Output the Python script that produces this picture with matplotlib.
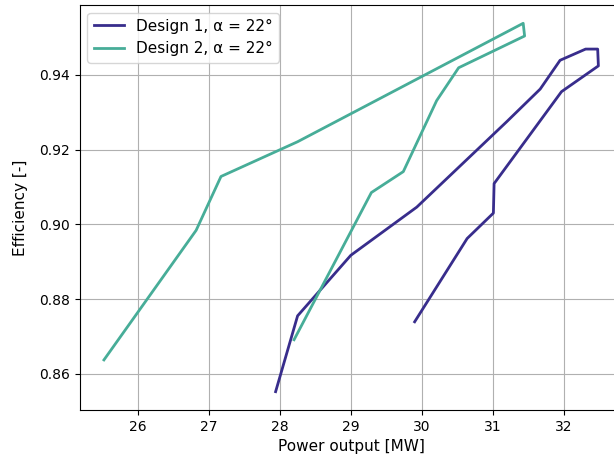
import matplotlib
matplotlib.use("Agg")
import matplotlib.pyplot as plt

power_d1 = [27.94, 28.25, 29.00, 29.93, 31.20, 31.67, 31.95, 32.31, 32.48,
            32.49, 31.97, 31.02, 31.01, 30.64, 29.90]
eff_d1 = [0.8552, 0.8755, 0.8917, 0.9046, 0.9275, 0.9362, 0.9439, 0.9469, 0.9469,
          0.9424, 0.9355, 0.9109, 0.9030, 0.8962, 0.8739]

# Design 2
power_d2 = [25.52, 26.82, 27.17, 28.25, 31.43, 31.45, 30.52, 30.21, 29.74,
            29.29, 28.20]
eff_d2 = [0.8637, 0.8984, 0.9128, 0.9221, 0.9538, 0.9504, 0.9419, 0.9331, 0.9141,
          0.9085, 0.8691]

labels = ["Design 1, α = 22°", "Design 2, α = 22°"]
colors = ["#382d8c", "#47ad98"]

fig = plt.figure(figsize=(6.14, 4.62), dpi=100)
ax = fig.add_axes([0.130, 0.1126, 0.885, 0.8766])
ax.plot(power_d1, eff_d1, color=colors[0], lw=2, label=labels[0])
ax.plot(power_d2, eff_d2, color=colors[1], lw=2, label=labels[1])
ax.set_xlim(25.18, 32.84)
ax.set_ylim(0.8503, 0.9587)
ax.set_xlabel("Power output [MW]", fontsize=11)
ax.set_ylabel("Efficiency [-]", fontsize=11, labelpad=8)
ax.grid(True)
ax.legend(loc="upper left", fontsize=11)
fig.savefig("out.png", dpi=100)
